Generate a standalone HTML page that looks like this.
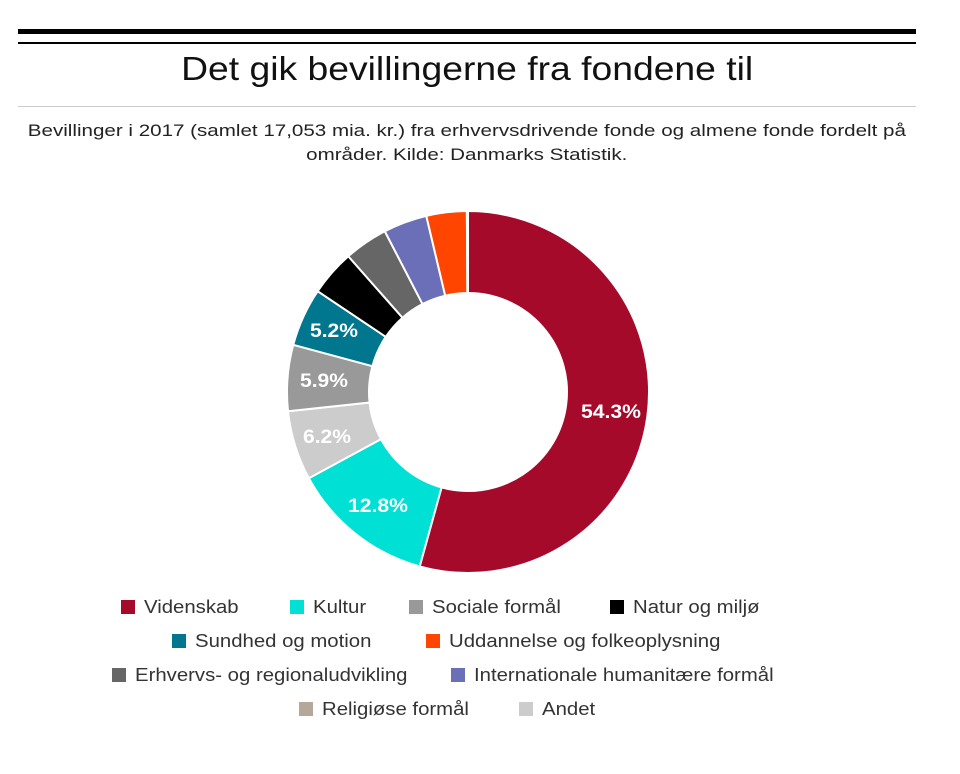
<!DOCTYPE html>
<html><head><meta charset="utf-8"><style>
body{margin:0;width:960px;height:774px;background:#fff;font-family:"Liberation Sans",Arial,sans-serif;position:relative;overflow:hidden}
.abs{position:absolute}
.lg{position:absolute;font-size:18px;color:#333;white-space:nowrap;line-height:20px}
.lg i{display:inline-block;width:14px;height:14px;vertical-align:-1px;margin-right:9px}
.lg span{display:inline-block;transform:scaleX(1.13);transform-origin:left center}
.sx{display:inline-block;transform-origin:center}
</style></head><body>
<div class="abs" style="left:18px;top:29px;width:898px;height:5px;background:#000"></div>
<div class="abs" style="left:18px;top:42px;width:898px;height:2px;background:#000"></div>
<div class="abs" style="left:18px;top:50px;width:898px;text-align:center;font-size:33px;color:#111"><span class="sx" style="transform:scaleX(1.13)">Det gik bevillingerne fra fondene til</span></div>
<div class="abs" style="left:18px;top:106px;width:898px;height:1px;background:#ccc"></div>
<div class="abs" style="left:18px;top:119px;width:898px;text-align:center;font-size:17px;line-height:24px;color:#222"><span class="sx" style="transform:scaleX(1.21)">Bevillinger i 2017 (samlet 17,053 mia. kr.) fra erhvervsdrivende fonde og almene fonde fordelt på</span><br><span class="sx" style="transform:scaleX(1.21)">områder. Kilde: Danmarks Statistik.</span></div>
<svg class="abs" style="left:0;top:0" width="960" height="774" id="s"></svg>
<div class="lg" style="left:121px;top:597px"><i style="background:#a50a2b"></i><span>Videnskab</span></div>
<div class="lg" style="left:290px;top:597px"><i style="background:#00e0d5"></i><span>Kultur</span></div>
<div class="lg" style="left:409px;top:597px"><i style="background:#999"></i><span>Sociale formål</span></div>
<div class="lg" style="left:610px;top:597px"><i style="background:#000"></i><span>Natur og miljø</span></div>
<div class="lg" style="left:172px;top:631px"><i style="background:#00768f"></i><span>Sundhed og motion</span></div>
<div class="lg" style="left:426px;top:631px"><i style="background:#ff4500"></i><span>Uddannelse og folkeoplysning</span></div>
<div class="lg" style="left:112px;top:665px"><i style="background:#666"></i><span>Erhvervs- og regionaludvikling</span></div>
<div class="lg" style="left:451px;top:665px"><i style="background:#6b6fb8"></i><span>Internationale humanitære formål</span></div>
<div class="lg" style="left:299px;top:699px"><i style="background:#b5a89a"></i><span>Religiøse formål</span></div>
<div class="lg" style="left:519px;top:699px"><i style="background:#ccc"></i><span>Andet</span></div>
<script>
var d=[[54.3,"#a50a2b"],[12.8,"#00e0d5"],[6.2,"#ccc"],[5.9,"#999"],[5.2,"#00768f"],[4.1,"#000"],[3.9,"#666"],[3.9,"#6b6fb8"],[3.6,"#ff4500"],[0.1,"#b5a89a"]];
var cx=468,cy=392,R=181,r=99,a=0,h="";
function p(rad,ang){return [cx+rad*Math.sin(ang),cy-rad*Math.cos(ang)];}
d.forEach(function(s){var a1=a+s[0]/100*2*Math.PI;var l=(a1-a)>Math.PI?1:0;
var A=p(R,a),B=p(R,a1),C=p(r,a1),D=p(r,a);
h+='<path d="M'+A+' A'+R+' '+R+' 0 '+l+' 1 '+B+' L'+C+' A'+r+' '+r+' 0 '+l+' 0 '+D+'Z" fill="'+s[1]+'" stroke="#fff" stroke-width="2"/>';a=a1;});
[["54.3%",611,418,60],["12.8%",378,512,60],["6.2%",327,443,48],["5.9%",324,387,48],["5.2%",334,337,48]].forEach(function(t){
h+='<text x="'+t[1]+'" y="'+t[2]+'" text-anchor="middle" textLength="'+t[3]+'" lengthAdjust="spacingAndGlyphs" font-family="Liberation Sans,Arial,sans-serif" font-size="19" font-weight="bold" fill="#fff">'+t[0]+'</text>';});
document.getElementById("s").innerHTML=h;
</script>
</body></html>
